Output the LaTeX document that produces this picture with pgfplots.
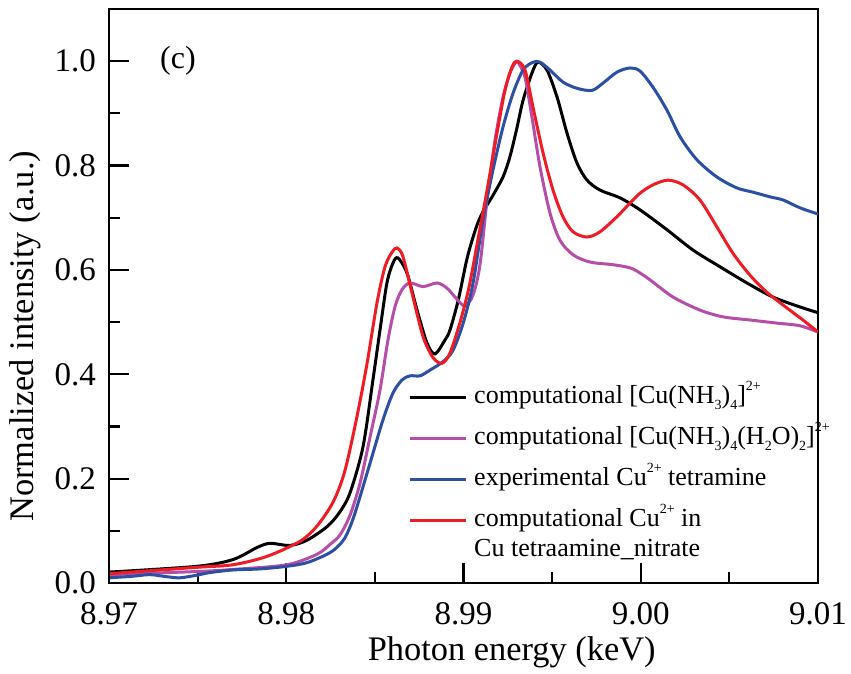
\documentclass[border=0pt]{standalone}
\usepackage{fontspec}
\setmainfont{Liberation Serif}
\usepackage{pgfplots}
\pgfplotsset{compat=1.18}

\definecolor{cpurple}{RGB}{180,78,168}
\definecolor{cblue}{RGB}{43,79,163}
\definecolor{cred}{RGB}{238,28,36}
% small sub- and superscripts as in the legend of the reference
\newcommand{\sbs}[1]{\raisebox{-3pt}{\fontsize{7}{8}\selectfont #1}}
\newcommand{\sps}[1]{\raisebox{6.5pt}{\fontsize{7}{8}\selectfont #1}}

\begin{document}
\begin{tikzpicture}
\useasboundingbox (-54.5pt,-45.5pt) rectangle (371pt,291.5pt);
\begin{axis}[
  scale only axis, width=354.5pt, height=287pt,
  xmin=8.97, xmax=9.01, ymin=0, ymax=1.1,
  xtick={8.97,8.98,8.99,9.00,9.01},
  minor xtick={8.975,8.985,8.995,9.005},
  ytick={0,0.2,0.4,0.6,0.8,1.0},
  minor ytick={0.1,0.3,0.5,0.7,0.9},
  tick align=inside, xtick pos=left, ytick pos=left,
  major tick length=10pt, minor tick length=5.5pt,
  every tick/.style={black, line width=1.1pt},
  axis line style={line width=1.3pt},
  scaled x ticks=false, scaled y ticks=false,
  xticklabel style={yshift=-6pt, /pgf/number format/.cd, fixed, fixed zerofill, precision=2},
  yticklabel style={xshift=-3pt, /pgf/number format/.cd, fixed, fixed zerofill, precision=1},
  tick label style={font=\fontsize{16.5}{18}\selectfont},
  /pgf/number format/assume math mode=true,
  label style={font=\fontsize{17.2}{19}\selectfont},
  xlabel={Photon energy (keV)},
  ylabel={Normalized intensity (a.u.)},
  xlabel style={at={(ticklabel cs:0.568)}, yshift=1pt},
  ylabel style={at={(ticklabel cs:0.43)}},
  every axis plot/.append style={line width=1.5pt, smooth},
  legend cell align=left,
  legend style={draw=none, fill=none, at={(rel axis cs:0.413,0.362)}, anchor=north west,
    font=\fontsize{13}{15}\selectfont, row sep=2.5pt,
    nodes={text height=10pt, text depth=4pt, inner sep=2pt},
    /tikz/every odd column/.append style={column sep=1.5pt}},
  legend image code/.code={\draw[#1, line width=1.5pt] (0pt,0pt) -- (28pt,0pt);},
]
% computational [Cu(NH3)4]2+
\addplot[black] coordinates {
(8.97006,0.021) (8.97496,0.032) (8.97700,0.045) (8.97835,0.068) (8.97908,0.076)
(8.98021,0.072) (8.98117,0.082) (8.98230,0.108) (8.98300,0.135) (8.98360,0.173)
(8.98433,0.261) (8.98489,0.389) (8.98529,0.485) (8.98568,0.575) (8.98602,0.613)
(8.98630,0.623) (8.98681,0.594) (8.98738,0.523) (8.98794,0.460) (8.98839,0.439)
(8.98896,0.466) (8.98924,0.485) (8.98971,0.543) (8.99018,0.619) (8.99055,0.664)
(8.99083,0.692) (8.99111,0.712) (8.99168,0.744) (8.99224,0.779) (8.99262,0.817)
(8.99300,0.870) (8.99336,0.925) (8.99386,0.977)
(8.99420,0.998) (8.99471,0.983) (8.99528,0.931) (8.99584,0.862) (8.99640,0.805)
(8.99697,0.772) (8.99770,0.753) (8.99883,0.738) (8.99996,0.715) (9.00148,0.677)
(9.00295,0.638) (9.00447,0.606) (9.00599,0.575) (9.00746,0.548) (9.00898,0.529)
(9.01000,0.518)};
\addlegendentry{computational [Cu(NH\sbs{3})\sbs{4}]\sps{2+}}
% computational [Cu(NH3)4(H2O)2]2+
\addplot[cpurple] coordinates {
(8.97006,0.016) (8.97496,0.022) (8.97700,0.026) (8.98004,0.035) (8.98173,0.055)
(8.98247,0.074) (8.98303,0.092) (8.98360,0.130) (8.98416,0.191) (8.98473,0.280)
(8.98529,0.370) (8.98574,0.466) (8.98614,0.530) (8.98653,0.562) (8.98698,0.575)
(8.98772,0.568) (8.98851,0.575) (8.98907,0.565) (8.98960,0.545) (8.99008,0.531)
(8.99054,0.552) (8.99093,0.610) (8.99133,0.734) (8.99178,0.849) (8.99223,0.931)
(8.99262,0.977) (8.99291,0.996) (8.99307,0.998) (8.99347,0.969) (8.99386,0.893)
(8.99432,0.797) (8.99488,0.709) (8.99544,0.657) (8.99618,0.629) (8.99714,0.615)
(8.99843,0.610) (8.99939,0.604) (8.99996,0.594) (9.00052,0.581) (9.00182,0.548)
(9.00334,0.523) (9.00464,0.510) (9.00616,0.504) (9.00769,0.498) (9.00898,0.493)
(9.01000,0.481)};
\addlegendentry{computational [Cu(NH\sbs{3})\sbs{4}(H\sbs{2}O)\sbs{2}]\sps{2+}}
% experimental Cu2+ tetramine
\addplot[cblue] coordinates {
(8.97006,0.010) (8.97135,0.013) (8.97231,0.016) (8.97327,0.012) (8.97401,0.010)
(8.97496,0.015) (8.97570,0.020) (8.97700,0.025) (8.97852,0.027) (8.98004,0.032)
(8.98117,0.039) (8.98230,0.055) (8.98285,0.068) (8.98330,0.086) (8.98365,0.112)
(8.98399,0.146) (8.98473,0.230)
(8.98546,0.313) (8.98602,0.364) (8.98653,0.389) (8.98698,0.397) (8.98755,0.397)
(8.98811,0.408) (8.98884,0.424) (8.98941,0.446) (8.99000,0.500) (8.99054,0.575)
(8.99110,0.696) (8.99166,0.791) (8.99223,0.874) (8.99279,0.938) (8.99336,0.983)
(8.99392,0.998) (8.99432,0.998) (8.99488,0.983) (8.99561,0.960) (8.99640,0.948)
(8.99725,0.944) (8.99787,0.958) (8.99866,0.979) (8.99939,0.987) (8.99996,0.981)
(9.00069,0.950) (9.00148,0.906) (9.00222,0.855) (9.00317,0.811) (9.00430,0.778)
(9.00543,0.757) (9.00633,0.749) (9.00729,0.740) (9.00803,0.734) (9.00898,0.719)
(9.01000,0.707)};
\addlegendentry{experimental Cu\sps{2+} tetramine}
% computational Cu2+ in Cu tetraamine nitrate
\addplot[cred] coordinates {
(8.97006,0.018) (8.97496,0.030) (8.97700,0.035) (8.97891,0.051) (8.98078,0.080)
(8.98173,0.109) (8.98264,0.155) (8.98330,0.214) (8.98399,0.319) (8.98456,0.421)
(8.98512,0.537) (8.98557,0.606) (8.98597,0.634) (8.98625,0.642) (8.98659,0.625)
(8.98715,0.548) (8.98772,0.472) (8.98828,0.432) (8.98879,0.421) (8.98924,0.441)
(8.98980,0.499) (8.99030,0.565) (8.99076,0.648) (8.99133,0.753) (8.99189,0.862)
(8.99234,0.944) (8.99274,0.989) (8.99302,1.000) (8.99347,0.983) (8.99392,0.912)
(8.99449,0.824) (8.99505,0.753) (8.99561,0.702) (8.99618,0.673) (8.99697,0.663)
(8.99770,0.673) (8.99866,0.702) (8.99939,0.728) (8.99996,0.747) (9.00069,0.763)
(9.00154,0.772) (9.00238,0.763) (9.00334,0.734) (9.00430,0.682) (9.00520,0.632)
(9.00616,0.590) (9.00712,0.557) (9.00825,0.527) (9.00915,0.504) (9.01000,0.481)};
\addlegendentry{\begin{tabular}[t]{@{}l@{}}computational Cu\sps{2+} in\\Cu tetraamine\_nitrate\end{tabular}}
\node[font=\fontsize{16}{18}\selectfont] at (axis cs:8.97389,1.0) {(c)};
\end{axis}
\end{tikzpicture}
\end{document}
